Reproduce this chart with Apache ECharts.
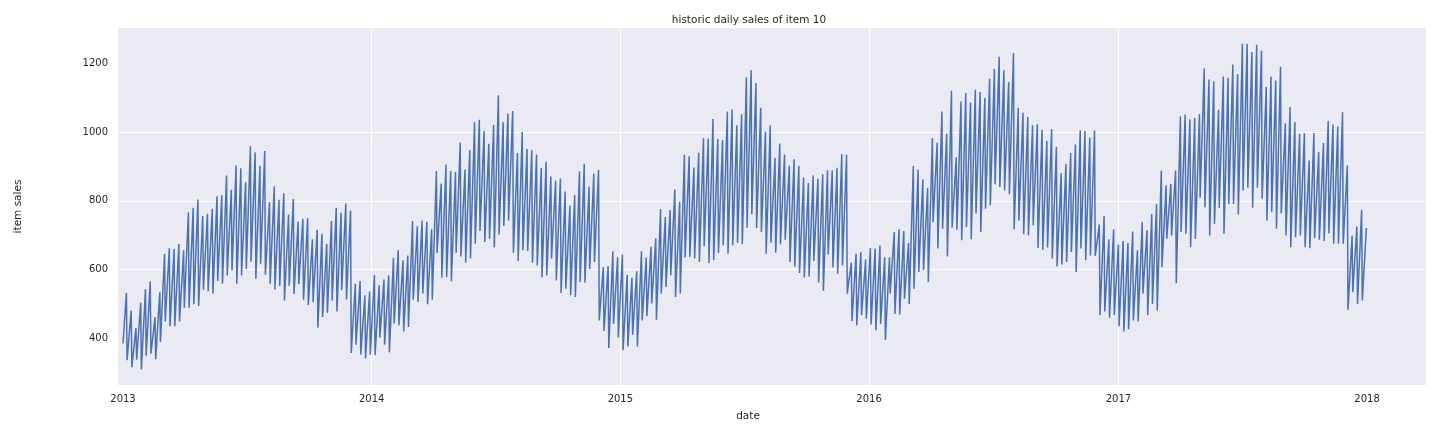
<!DOCTYPE html>
<html>
<head>
<meta charset="utf-8">
<script src="https://cdn.jsdelivr.net/npm/echarts@6/dist/echarts.min.js"></script>
<style>
  html, body { margin: 0; padding: 0; background: #fff; }
  #chart { width: 1440px; height: 432px; }
</style>
</head>
<body>
<div id="chart"></div>
<script>
// daily sales of item 10, read off the picture as weekly swings:
// the Sunday high and the Monday low of every week, 2013-01-06 .. 2017-12-31
const firstDay = 385; // Tue 2013-01-01

const sundayHighs = [
  532, 481, 430, 503, 543, 566, 462, 534, 645, 662, 660, 674, 656, 767, 780, 804, 756, 762, 777, 813, 816,
  874, 832, 903, 895, 854, 959, 941, 902, 945, 796, 842, 803, 822, 760, 805, 740, 748, 749, 688, 716, 704, 675,
  741, 780, 765, 792, 772, 559, 567, 525, 536, 584, 555, 571, 583, 634, 656, 627, 641, 741, 726, 743, 739, 717,
  887, 850, 906, 887, 884, 970, 891, 947, 1029, 1036, 1003, 966, 1021, 1107, 1029, 1054, 1061, 939, 1000, 951, 947, 935,
  896, 914, 871, 859, 865, 827, 786, 817, 886, 908, 841, 879, 890, 607, 610, 653, 636, 644, 585, 576, 595, 653,
  635, 666, 690, 776, 753, 773, 833, 797, 934, 930, 897, 940, 982, 981, 1038, 980, 976, 1060, 1066, 1020, 1052, 1159,
  1180, 1143, 1071, 1001, 1019, 925, 967, 935, 902, 921, 901, 868, 852, 874, 865, 877, 889, 889, 896, 936, 934, 620,
  646, 651, 629, 663, 661, 670, 636, 636, 709, 717, 712, 677, 901, 891, 862, 837, 983, 969, 1060, 995, 1120, 927,
  1089, 1114, 1086, 1123, 1117, 1099, 1155, 1184, 1219, 1180, 1146, 1230, 1071, 1056, 1044, 1020, 1023, 1007, 974, 1009, 957, 881,
  908, 939, 964, 1005, 1003, 984, 1005, 731, 756, 688, 717, 673, 683, 677, 711, 656, 738, 714, 762, 791, 888, 845,
  849, 888, 1046, 1051, 1037, 1041, 1053, 1186, 1153, 1148, 1065, 1162, 1158, 1197, 1169, 1257, 1257, 1233, 1254, 1237, 1131, 1162,
  1150, 1190, 1026, 1073, 1029, 995, 997, 917, 997, 942, 968, 1032, 1022, 1016, 1058, 903, 699, 725, 774, 721
];

const mondayLows = [
  336, 316, 338, 309, 349, 355, 339, 389, 449, 435, 435, 449, 489, 489, 499, 494, 541, 537, 530, 567, 559,
  583, 597, 559, 583, 602, 623, 573, 617, 585, 559, 542, 552, 510, 553, 529, 557, 512, 497, 505, 431, 462, 474,
  510, 478, 540, 513, 357, 381, 352, 341, 352, 351, 402, 381, 359, 443, 438, 420, 433, 512, 506, 530, 499, 512,
  648, 576, 578, 566, 649, 638, 620, 632, 675, 712, 680, 690, 665, 702, 727, 743, 649, 625, 656, 654, 620, 612,
  578, 583, 632, 568, 532, 544, 525, 520, 564, 562, 602, 622, 452, 421, 372, 442, 402, 365, 376, 410, 376, 452,
  464, 501, 454, 530, 549, 583, 520, 530, 635, 637, 632, 622, 668, 619, 627, 648, 671, 646, 671, 677, 674, 722,
  761, 721, 709, 646, 678, 649, 674, 687, 622, 608, 590, 577, 580, 625, 562, 538, 644, 606, 588, 612, 530, 450,
  437, 467, 457, 440, 423, 442, 396, 530, 471, 469, 515, 500, 544, 593, 599, 564, 738, 661, 719, 638, 722, 716,
  685, 724, 688, 763, 709, 777, 787, 848, 840, 830, 819, 717, 743, 703, 700, 729, 663, 658, 664, 632, 609, 615,
  622, 651, 593, 661, 627, 641, 640, 467, 478, 460, 468, 435, 420, 426, 452, 449, 530, 467, 500, 481, 607, 690,
  699, 560, 709, 704, 665, 689, 809, 781, 699, 733, 779, 704, 791, 791, 760, 830, 838, 780, 838, 806, 743, 767,
  719, 764, 699, 665, 694, 699, 665, 662, 692, 687, 683, 706, 675, 675, 675, 483, 534, 500, 510
];

const yTicks = [400, 600, 800, 1000, 1200];
const yearTicks = [2013, 2014, 2015, 2016, 2017, 2018];

// 点序列：周日高点 -> 周一低点（x 为时间戳）
const points = [[new Date(2013, 0, 1).getTime(), firstDay]];
sundayHighs.forEach((v, k) => {
  points.push([new Date(2013, 0, 6 + 7 * k).getTime(), v]);
  if (k < mondayLows.length) {
    points.push([new Date(2013, 0, 7 + 7 * k).getTime(), mondayLows[k]]);
  }
});

const yearStarts = yearTicks.map(y => new Date(y, 0, 1).getTime());
const textColor = '#262626';
const font = 'DejaVu Sans';
const labelStyle = { fontFamily: font, fontSize: 10.5, fontWeight: 'normal', color: textColor };

const chart = echarts.init(document.getElementById('chart'), null, { renderer: 'canvas' });
chart.setOption({
  animation: false,
  backgroundColor: '#ffffff',
  title: [
    { text: 'historic daily sales of item 10', left: 744, top: 10, textAlign: 'center', textStyle: labelStyle },
    { text: 'date', left: 743, top: 406, textAlign: 'center', textStyle: labelStyle }
  ],
  grid: { left: 118, right: 14, top: 28, bottom: 47, show: true, backgroundColor: '#EAEAF2', borderWidth: 0 },
  xAxis: {
    type: 'value',
    min: new Date(2012, 11, 24, 16).getTime(),
    max: new Date(2018, 2, 28, 12).getTime(),
    axisLine: { show: false },
    axisTick: { show: false, customValues: yearStarts },
    axisLabel: {
      customValues: yearStarts,
      formatter: v => String(new Date(v).getFullYear()),
      fontFamily: font, fontSize: 10, color: textColor, margin: 9
    },
    splitLine: { show: true, showMinLine: false, showMaxLine: false, lineStyle: { color: '#ffffff', width: 1 } }
  },
  yAxis: {
    type: 'value',
    min: 264, max: 1303,
    name: 'item sales', nameLocation: 'middle', nameGap: 94, nameRotate: 90,
    nameTextStyle: labelStyle,
    axisLine: { show: false },
    axisTick: { show: false, customValues: yTicks },
    axisLabel: { customValues: yTicks, formatter: v => String(v), fontFamily: font, fontSize: 10, color: textColor, margin: 10 },
    splitLine: { show: true, showMinLine: false, showMaxLine: false, lineStyle: { color: '#ffffff', width: 1 } }
  },
  series: [{
    type: 'line',
    data: points,
    showSymbol: false,
    lineStyle: { color: '#4C72B0', width: 1.5 },
    itemStyle: { color: '#4C72B0' }
  }]
});
</script>
</body>
</html>
